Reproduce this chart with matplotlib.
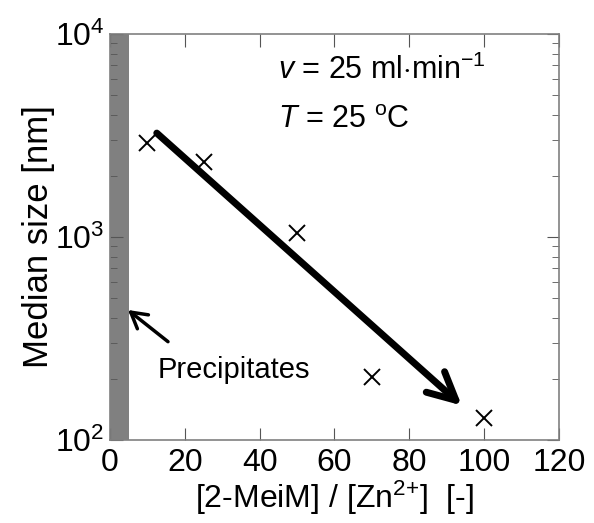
import matplotlib
matplotlib.use("Agg")
import matplotlib.pyplot as plt

plt.rcParams['font.family'] = ['Liberation Sans', 'DejaVu Sans']
plt.rcParams['mathtext.fontset'] = 'custom'
plt.rcParams['mathtext.rm'] = 'Liberation Sans'
plt.rcParams['mathtext.it'] = 'Liberation Sans:italic'

# data
ratio = [10, 25, 50, 70, 100]
size_nm = [2900, 2350, 1050, 205, 129]
precip_lim = [0, 5]
trend_x = [12.5, 94]
trend_y = [3250, 148]

fig = plt.figure(figsize=(5.94, 5.23), dpi=100)
ax = fig.add_axes([110/594, 1 - 440/523, 449/594, 406/523])

ax.axvspan(precip_lim[0], precip_lim[1], color='#808080', lw=0)
ax.plot(ratio, size_nm, 'x', color='k', ms=11, mew=1.4)

ax.annotate('', xy=(trend_x[1], trend_y[1]), xytext=(trend_x[0], trend_y[0]),
            arrowprops=dict(arrowstyle='->,head_length=0.9,head_width=0.45',
                            mutation_scale=22, lw=5, color='k',
                            shrinkA=0, shrinkB=0))
ax.annotate('', xy=(4.8, 437), xytext=(15.5, 305),
            arrowprops=dict(arrowstyle='->,head_length=0.7,head_width=0.4',
                            mutation_scale=16, lw=2.5, color='k',
                            shrinkA=0, shrinkB=0))
ax.text(12.8, 221, 'Precipitates', fontsize=21, va='center', ha='left')
ax.text(45, 6650, r'$\it{v}$ = 25 ml$\cdot$min$^{-1}$', fontsize=22, va='center', ha='left')
ax.text(45, 3770, r'$\it{T}$ = 25 $^{\rm o}$C', fontsize=22, va='center', ha='left')

ax.set_yscale('log')
ax.set_xlim(0, 120)
ax.set_ylim(100, 10000)
ax.set_xticks([0, 20, 40, 60, 80, 100, 120])
ax.tick_params(which='both', direction='in', top=True, right=True,
               color='#555555', labelsize=23)
ax.tick_params(axis='x', pad=6)
ax.tick_params(axis='y', pad=4)
ax.tick_params(which='major', length=9)
ax.tick_params(which='minor', length=5)
for s in ax.spines.values():
    s.set_color('#808080')
    s.set_linewidth(1.2)

ax.set_xlabel(r'[2-MeiM] / [Zn$^{2{+}}$]  [-]', fontsize=23, labelpad=0)
ax.set_ylabel('Median size [nm]', fontsize=25, labelpad=0)

fig.savefig('out.png', dpi=100)
